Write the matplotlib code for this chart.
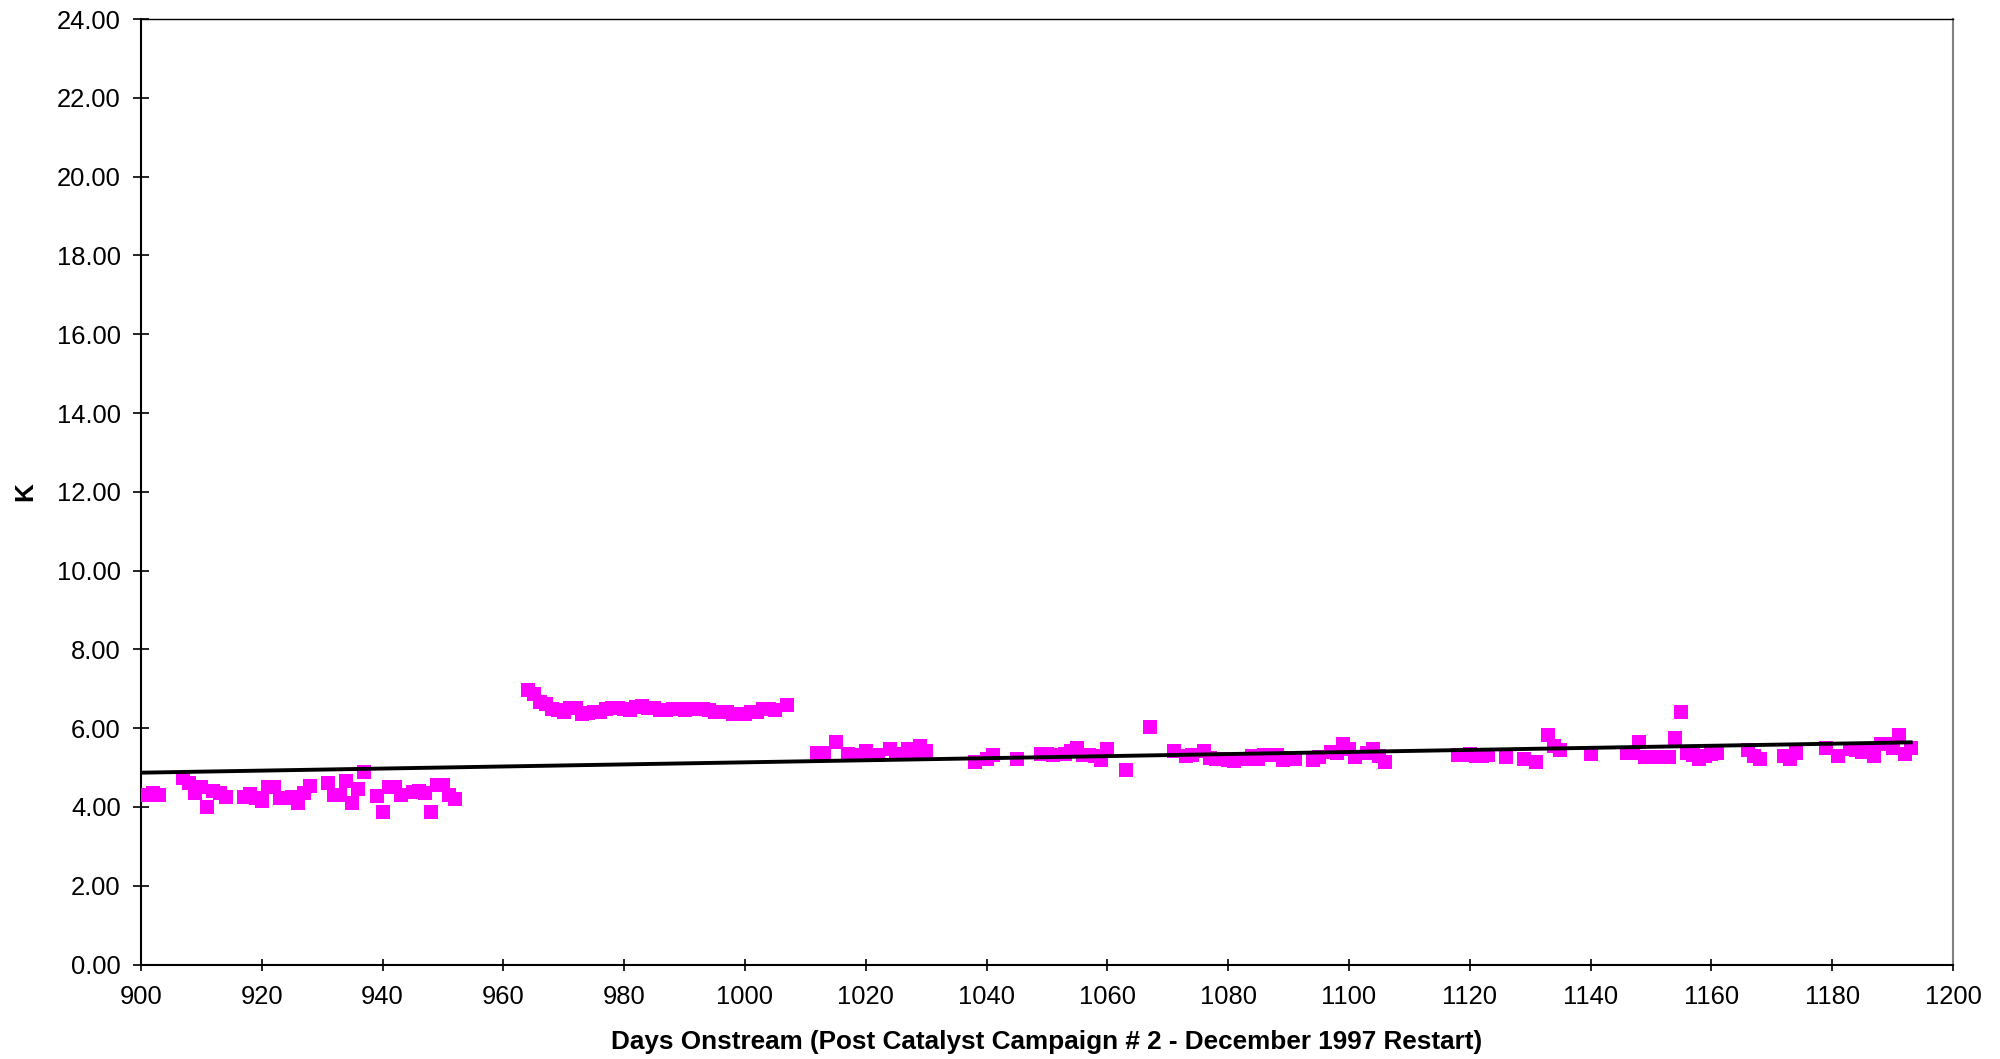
import numpy as np
import matplotlib
matplotlib.use("Agg")
import matplotlib.pyplot as plt
from matplotlib.ticker import FormatStrFormatter, MultipleLocator

plt.rcParams['font.family'] = ['Liberation Sans', 'DejaVu Sans']

# K readings, grouped by run period (days onstream, K)
days_a = [901, 902, 903, 907, 908, 909, 910, 911, 912, 913, 914,
          917, 918, 919, 920, 921, 922, 923, 924, 925, 926, 927, 928,
          931, 932, 933, 934, 935, 936, 937, 939, 940, 941, 942, 943,
          945, 946, 947, 948, 949, 950, 951, 952]
k_a = [4.30, 4.35, 4.30, 4.73, 4.60, 4.35, 4.50, 4.01, 4.40, 4.36, 4.25,
       4.26, 4.34, 4.24, 4.14, 4.51, 4.50, 4.24, 4.24, 4.26, 4.09, 4.35, 4.54,
       4.60, 4.30, 4.30, 4.66, 4.09, 4.45, 4.89, 4.28, 3.88, 4.50, 4.50, 4.30,
       4.39, 4.41, 4.35, 3.88, 4.56, 4.56, 4.30, 4.19]

days_b = [964, 965, 966, 967, 968, 969, 970, 971, 972, 973, 974, 975, 976,
          977, 978, 979, 980, 981, 982, 983, 984, 985, 986, 987, 988, 989,
          990, 991, 992, 993, 994, 995, 996, 997, 998, 999, 1000, 1001, 1002,
          1003, 1004, 1005, 1007]
k_b = [6.98, 6.87, 6.67, 6.62, 6.48, 6.45, 6.42, 6.52, 6.50, 6.37, 6.38, 6.42, 6.42,
       6.48, 6.52, 6.52, 6.48, 6.46, 6.55, 6.56, 6.52, 6.50, 6.46, 6.45, 6.48, 6.48,
       6.47, 6.48, 6.48, 6.48, 6.47, 6.42, 6.42, 6.40, 6.37, 6.36, 6.37, 6.42, 6.42,
       6.48, 6.48, 6.46, 6.58]

days_c = [1012, 1013, 1015, 1017, 1018, 1019, 1020, 1021, 1022, 1024, 1025, 1026,
          1027, 1028, 1029, 1030,
          1038, 1040, 1041, 1045, 1049, 1050, 1051, 1053, 1054, 1055, 1056, 1057,
          1058, 1059, 1060, 1063, 1067]
k_c = [5.36, 5.36, 5.66, 5.34, 5.31, 5.31, 5.41, 5.33, 5.31, 5.46, 5.35, 5.35,
       5.46, 5.40, 5.55, 5.41,
       5.15, 5.21, 5.31, 5.21, 5.35, 5.35, 5.32, 5.35, 5.42, 5.50, 5.31, 5.31,
       5.30, 5.19, 5.46, 4.95, 6.02]

days_d = [1071, 1073, 1074, 1076, 1077, 1078, 1079, 1080, 1081, 1082, 1083, 1084,
          1085, 1086, 1088, 1089, 1090, 1091, 1094, 1095, 1097, 1098, 1099, 1100,
          1101, 1103, 1104, 1105, 1106]
k_d = [5.41, 5.29, 5.31, 5.41, 5.24, 5.23, 5.21, 5.20, 5.16, 5.23, 5.23, 5.29,
       5.21, 5.32, 5.33, 5.19, 5.25, 5.23, 5.19, 5.27, 5.40, 5.36, 5.60, 5.46,
       5.27, 5.36, 5.46, 5.29, 5.15]

days_e = [1118, 1119, 1120, 1121, 1122, 1123, 1126, 1129, 1131, 1133, 1134, 1135,
          1140, 1146, 1147, 1148, 1149, 1150, 1151, 1152, 1153, 1154, 1155, 1156,
          1157, 1158, 1159, 1160, 1161, 1166, 1167, 1168, 1172, 1173, 1174, 1179,
          1181, 1183, 1184, 1185, 1186, 1187, 1188, 1189, 1190, 1191, 1192, 1193]
k_e = [5.32, 5.32, 5.34, 5.29, 5.30, 5.32, 5.26, 5.21, 5.15, 5.82, 5.55, 5.44,
       5.34, 5.38, 5.38, 5.66, 5.26, 5.26, 5.26, 5.26, 5.26, 5.76, 6.42, 5.38,
       5.33, 5.21, 5.29, 5.35, 5.38, 5.44, 5.29, 5.21, 5.29, 5.21, 5.36, 5.50,
       5.29, 5.46, 5.44, 5.40, 5.44, 5.29, 5.61, 5.61, 5.49, 5.82, 5.34, 5.50]

# linear trend line end points, as drawn
trend_days = [900, 1193]
trend_k = [4.87, 5.64]

days = days_a + days_b + days_c + days_d + days_e
k_vals = k_a + k_b + k_c + k_d + k_e

fig = plt.figure(figsize=(20, 10.59), dpi=100)
ax = fig.add_axes([0.0705, 0.0892, 0.906, 0.8928])

ax.plot(days, k_vals, linestyle='none', marker='s', markersize=9.4,
        markerfacecolor='#FF00FF', markeredgewidth=0, zorder=3)
ax.plot(trend_days, trend_k, color='black', linewidth=2.8, zorder=4)

ax.set_xlim(900, 1200)
ax.set_ylim(0, 24)
ax.xaxis.set_major_locator(MultipleLocator(20))
ax.yaxis.set_major_locator(MultipleLocator(2))
ax.yaxis.set_major_formatter(FormatStrFormatter('%.2f'))

ax.tick_params(axis='y', direction='inout', length=11, width=1.2, pad=9,
               labelsize=18.4, color='black')
ax.tick_params(axis='x', direction='inout', length=9, width=1.2, pad=10,
               labelsize=18.4, color='black')

for side in ['left', 'bottom']:
    ax.spines[side].set_linewidth(1.5)
    ax.spines[side].set_color('black')
ax.spines['top'].set_linewidth(1.0)
ax.spines['top'].set_color('black')
ax.spines['right'].set_linewidth(1.5)
ax.spines['right'].set_color('#808080')

ax.set_xlabel('Days Onstream (Post Catalyst Campaign # 2 - December 1997 Restart)',
              fontsize=18.8, fontweight='bold')
ax.set_ylabel('K', fontsize=18.8, fontweight='bold')
ax.xaxis.set_label_coords(0.5, -0.069)
ax.yaxis.set_label_coords(-0.057, 0.5)

fig.savefig('out.png', dpi=100, facecolor='white')
